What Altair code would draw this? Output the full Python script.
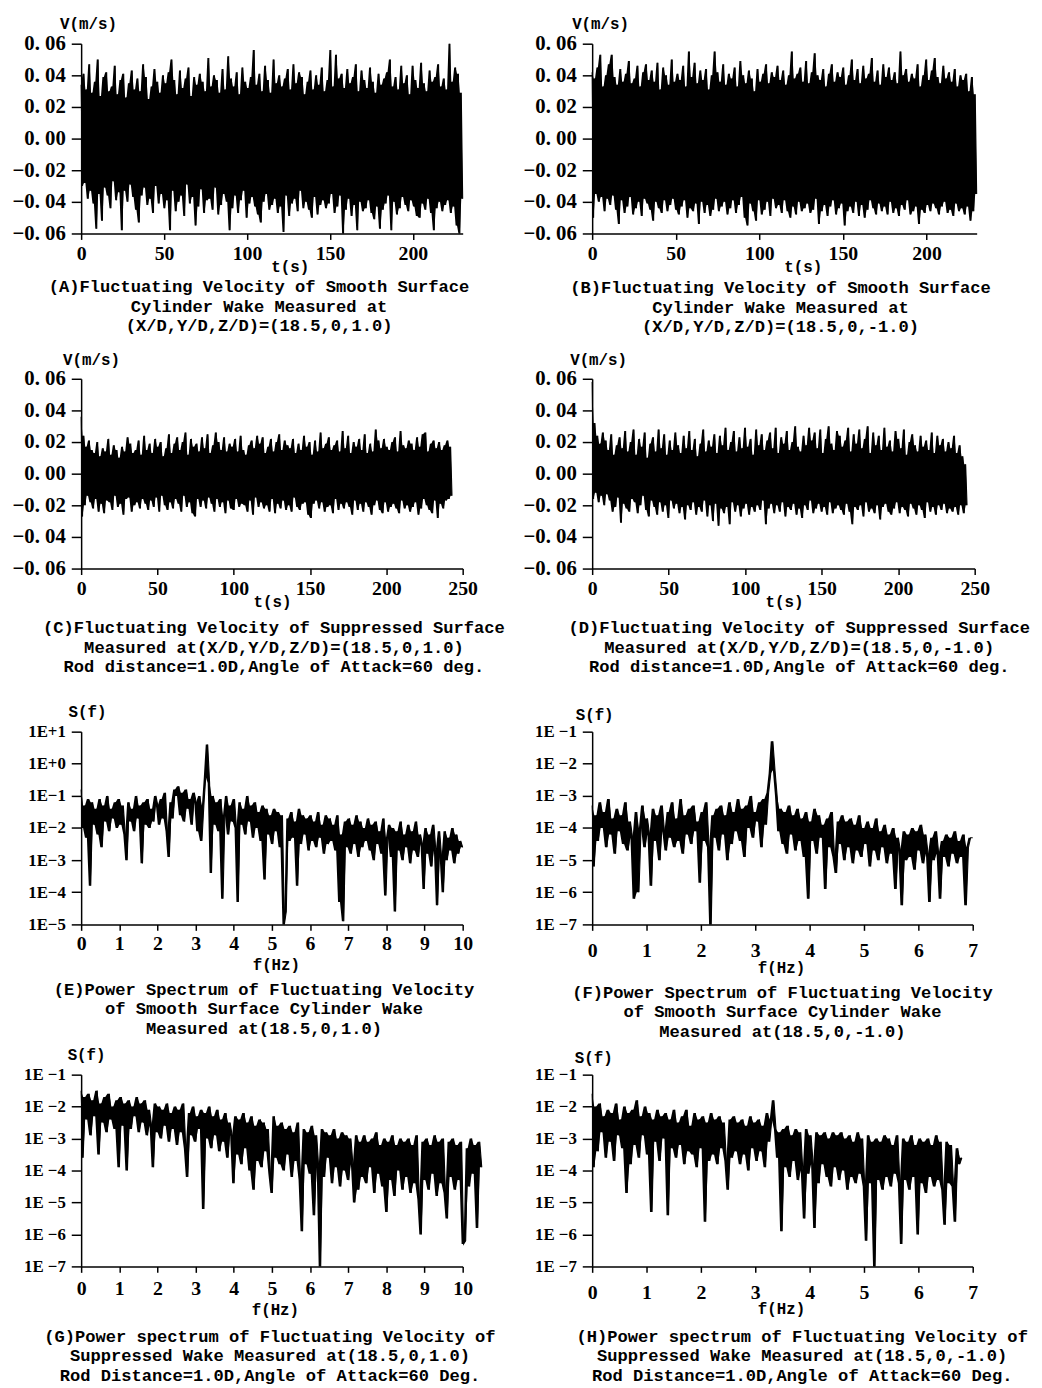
import altair as alt
import pandas as pd

MONO = "Liberation Mono"
SERIF = "Liberation Serif"

# ---------- time series: velocity in mm/s, samples evenly spread over the time span ----------
a_t_span = [0, 230]
a_v_mm = [34, -30, 41, -28, 31, -38, 47, -33, 29, -41,
          36, -57, 50, -35, 27, -52, 39, -31, 42, -36,
          30, -44, 33, -27, 46, -39, 28, -34, 37, -58,
          41, -33, 26, -40, 35, -29, 43, -37, 31, -45,
          38, -53, 30, -36, 47, -31, 39, -42, 25, -38,
          33, -47, 44, -30, 36, -41, 29, -35, 40, -44,
          35, -39, 42, -58, 50, -33, 37, -46, 28, -40,
          43, -36, 32, -49, 38, -29, 45, -41, 27, -37,
          39, -55, 34, -43, 41, -32, 36, -47, 30, -39,
          51, -38, 33, -45, 40, -31, 37, -48, 29, -42,
          44, -35, 31, -40, 52, -58, 38, -44, 33, -36,
          42, -47, 28, -39, 45, -33, 36, -50, 32, -41,
          39, -37, 56, -43, 34, -48, 41, -53, 30, -40,
          46, -35, 37, -45, 29, -42, 50, -38, 35, -47,
          40, -43, 33, -59, 38, -36, 44, -49, 31, -41,
          47, -38, 35, -46, 42, -33, 39, -44, 28, -40,
          36, -45, 43, -50, 31, -37, 40, -48, 34, -42,
          45, -39, 30, -44, 37, -41, 56, -35, 33, -47,
          53, -43, 38, -36, 41, -60, 32, -45, 44, -38,
          35, -49, 39, -42, 47, -58, 30, -40, 43, -46,
          37, -44, 32, -39, 45, -47, 36, -51, 29, -43,
          41, -57, 34, -45, 38, -41, 42, -36, 50, -58,
          33, -40, 39, -48, 31, -44, 46, -37, 35, -42,
          40, -46, 28, -39, 46, -43, 37, -49, 32, -50,
          48, -41, 35, -45, 30, -38, 43, -47, 36, -58,
          39, -44, 47, -40, 33, -46, 38, -42, 31, -39,
          60, -47, 36, -43, 45, -55, 41, -60, 29, -38]

b_t_span = [0, 230]
b_v_mm = [42, -50, 38, -35, 45, -40, 53, -37, 33, -46,
          40, -38, 47, -42, 53, -36, 39, -45, 34, -54,
          44, -39, 36, -47, 41, -43, 49, -37, 35, -48,
          38, -44, 46, -40, 33, -49, 42, -38, 47, -41,
          37, -45, 43, -52, 36, -40, 48, -44, 31, -47,
          45, -39, 40, -46, 34, -42, 50, -38, 36, -45,
          41, -48, 37, -43, 46, -39, 33, -50, 55, -44,
          39, -46, 48, -41, 35, -54, 43, -40, 37, -47,
          44, -42, 31, -49, 40, -45, 55, -38, 42, -46,
          36, -43, 47, -40, 34, -48, 41, -44, 38, -39,
          45, -47, 33, -42, 49, -37, 40, -50, 35, -55,
          43, -41, 38, -46, 30, -52, 44, -39, 36, -48,
          41, -45, 47, -40, 35, -49, 42, -38, 39, -44,
          46, -42, 37, -47, 43, -39, 34, -46, 40, -50,
          55, -43, 38, -48, 41, -40, 45, -46, 36, -44,
          49, -41, 35, -47, 42, -45, 54, -38, 40, -54,
          37, -46, 44, -42, 33, -49, 41, -43, 47, -39,
          36, -48, 42, -44, 39, -41, 45, -55, 34, -46,
          40, -43, 50, -47, 37, -40, 44, -49, 35, -42,
          46, -50, 38, -45, 41, -39, 51, -44, 36, -48,
          43, -41, 34, -46, 47, -43, 39, -48, 45, -40,
          37, -47, 42, -44, 35, -49, 55, -42, 40, -45,
          44, -39, 36, -48, 41, -46, 38, -43, 47, -54,
          33, -45, 40, -47, 50, -42, 37, -46, 43, -41,
          51, -44, 39, -48, 35, -43, 46, -40, 38, -47,
          42, -45, 36, -49, 44, -41, 33, -46, 40, -44,
          37, -48, 41, -43, 30, -52, 39, -46, 28, -35]

c_t_span = [0, 243]
c_v_mm = [36, -27, 24, -20, 17, -14, 21, -18, 15, -22,
          13, -16, 20, -24, 11, -19, 16, -25, 14, -17,
          22, -18, 12, -23, 18, -14, 15, -21, 10, -19,
          17, -26, 14, -16, 23, -15, 19, -24, 13, -20,
          15, -18, 21, -22, 12, -16, 24, -19, 15, -23,
          19, -17, 13, -21, 22, -15, 17, -24, 20, -14,
          11, -20, 16, -23, 25, -18, 13, -22, 19, -16,
          23, -19, 15, -24, 20, -14, 26, -21, 12, -18,
          22, -25, 17, -27, 19, -16, 14, -21, 23, -17,
          16, -22, 25, -15, 13, -19, 18, -24, 26, -16,
          20, -21, 15, -18, 23, -25, 14, -17, 19, -22,
          17, -23, 22, -16, 14, -21, 24, -19, 15, -20,
          12, -24, 18, -17, 21, -26, 16, -15, 24, -21,
          19, -18, 23, -22, 13, -20, 17, -24, 22, -16,
          14, -25, 20, -19, 25, -22, 15, -17, 21, -23,
          18, -20, 16, -24, 22, -15, 13, -21, 19, -23,
          15, -19, 24, -18, 17, -26, 20, -28, 12, -19,
          21, -17, 14, -22, 26, -18, 16, -24, 19, -21,
          23, -20, 15, -25, 18, -16, 21, -23, 14, -19,
          27, -22, 16, -18, 24, -21, 13, -26, 20, -17,
          17, -23, 22, -19, 15, -24, 25, -18, 13, -21,
          19, -26, 14, -20, 28, -17, 21, -23, 16, -25,
          22, -18, 17, -24, 15, -21, 20, -19, 23, -22,
          14, -25, 27, -17, 18, -22, 16, -20, 21, -24,
          19, -21, 15, -18, 23, -26, 17, -22, 25, -16,
          26, -20, 14, -23, 19, -25, 21, -17, 16, -28,
          20, -19, 15, -22, 18, -17, 21, -16, 17, -14]

d_t_span = [0, 245]
d_v_mm = [58, -16, 32, -12, 24, -18, 19, -14, 26, -20,
          21, -13, 15, -17, 25, -24, 12, -21, 18, -15,
          23, -31, 16, -19, 27, -22, 14, -24, 20, -16,
          28, -18, 12, -25, 22, -20, 17, -14, 26, -23,
          10, -27, 19, -17, 23, -21, 14, -26, 28, -18,
          16, -24, 25, -20, 12, -28, 21, -17, 15, -22,
          26, -19, 18, -25, 13, -21, 24, -29, 16, -20,
          27, -23, 15, -18, 22, -26, 11, -21, 19, -24,
          28, -17, 14, -27, 21, -20, 17, -30, 25, -19,
          13, -33, 24, -22, 18, -25, 29, -21, 15, -32,
          20, -18, 27, -24, 14, -20, 23, -27, 16, -22,
          29, -19, 17, -26, 22, -21, 12, -24, 28, -20,
          18, -23, 25, -17, 15, -32, 21, -22, 26, -19,
          16, -25, 29, -20, 13, -24, 23, -18, 19, -27,
          27, -21, 15, -23, 20, -19, 30, -26, 17, -22,
          14, -28, 24, -20, 18, -23, 29, -17, 21, -25,
          26, -22, 16, -19, 28, -24, 13, -21, 22, -26,
          30, -18, 19, -25, 15, -22, 27, -20, 24, -23,
          17, -26, 21, -19, 29, -24, 14, -32, 25, -21,
          19, -23, 28, -20, 16, -27, 22, -18, 30, -24,
          13, -22, 26, -25, 18, -20, 24, -29, 15, -21,
          29, -19, 17, -24, 21, -26, 14, -22, 27, -18,
          22, -25, 16, -21, 28, -23, 12, -27, 20, -19,
          25, -22, 18, -26, 14, -20, 24, -23, 17, -28,
          21, -18, 15, -24, 26, -21, 13, -26, 24, -20,
          18, -23, 22, -19, 14, -25, 20, -22, 16, -24,
          24, -21, 13, -26, 18, -20, 11, -25, 6, -20]

# ---------- power spectra: S(f) in dB (10*log10 S), samples evenly spread over the band ----------
e_f_span = [0, 10]
e_s_db = [-8, -20, -13, -23, -11, -38, -12, -19, -14, -22,
          -11, -26, -13, -18, -10, -21, -14, -17, -12, -20,
          -11, -19, -13, -22, -30, -12, -18, -14, -21, -10,
          -17, -13, -31, -12, -19, -11, -20, -14, -18, -10,
          -13, -19, -11, -17, -9, -21, -29, -12, -17, -8,
          -10, -7, -16, -9, -18, -8, -14, -11, -19, -9,
          -12, -21, -10, -24, -13, -4, 6, -6, -34, -10,
          -19, -12, -21, -11, -42, -16, -10, -22, -13, -18,
          -11, -20, -43, -12, -19, -14, -22, -10, -18, -13,
          -23, -12, -20, -15, -24, -13, -36, -14, -22, -16,
          -25, -14, -21, -15, -26, -16, -50, -46, -17, -24,
          -15, -23, -18, -38, -14, -25, -16, -22, -17, -27,
          -16, -24, -18, -26, -15, -23, -19, -28, -16, -25,
          -17, -24, -19, -27, -16, -43, -22, -49, -18, -26,
          -17, -28, -19, -25, -16, -29, -18, -26, -20, -24,
          -17, -27, -19, -30, -18, -25, -21, -28, -17, -41,
          -23, -19, -29, -20, -46, -21, -27, -18, -30, -22,
          -26, -19, -31, -21, -27, -18, -29, -22, -25, -39,
          -20, -28, -22, -32, -19, -27, -44, -21, -29, -40,
          -21, -30, -23, -27, -20, -31, -22, -28, -24, -26]

f_f_span = [0, 7]
f_s_db = [-33, -52, -36, -44, -32, -40, -35, -46, -31, -42,
          -37, -48, -34, -41, -36, -45, -32, -47, -38, -43,
          -62, -35, -60, -40, -33, -46, -37, -42, -58, -34,
          -44, -36, -50, -33, -41, -47, -35, -43, -32, -46,
          -37, -44, -31, -48, -36, -42, -34, -45, -33, -41,
          -38, -57, -35, -44, -32, -46, -70, -36, -43, -34,
          -47, -33, -42, -36, -50, -32, -45, -35, -41, -31,
          -44, -34, -49, -33, -40, -30, -43, -35, -38, -32,
          -46, -31, -39, -29, -23, -13, -22, -30, -41, -34,
          -45, -35, -48, -33, -42, -36, -47, -34, -44, -37,
          -49, -35, -62, -38, -44, -34, -48, -36, -43, -39,
          -59, -37, -46, -35, -49, -54, -38, -45, -36, -50,
          -38, -46, -37, -51, -39, -47, -36, -49, -40, -45,
          -38, -52, -40, -47, -37, -50, -41, -46, -39, -51,
          -42, -48, -40, -59, -43, -47, -64, -41, -50, -42,
          -49, -40, -53, -41, -47, -39, -51, -42, -48, -63,
          -43, -50, -41, -48, -62, -44, -49, -42, -52, -43,
          -48, -41, -51, -44, -49, -42, -64, -46, -43, -43]

g_f_span = [0, 10.5]
g_s_db = [-15, -36, -17, -24, -16, -29, -18, -23, -15, -35,
          -19, -25, -17, -28, -16, -24, -20, -27, -18, -39,
          -17, -26, -19, -40, -18, -27, -20, -23, -17, -28,
          -19, -25, -18, -29, -21, -26, -39, -19, -28, -20,
          -30, -21, -26, -19, -31, -22, -27, -20, -32, -21,
          -28, -19, -33, -42, -22, -29, -20, -31, -23, -27,
          -21, -52, -22, -30, -20, -33, -23, -29, -21, -34,
          -24, -31, -22, -36, -25, -29, -44, -23, -35, -24,
          -38, -22, -33, -25, -40, -23, -46, -26, -37, -24,
          -39, -25, -34, -27, -41, -47, -23, -36, -26, -38,
          -25, -40, -27, -35, -26, -42, -28, -37, -25, -43,
          -59, -27, -38, -28, -41, -26, -54, -29, -39, -70,
          -27, -42, -28, -36, -29, -44, -27, -39, -30, -45,
          -28, -40, -29, -43, -30, -38, -50, -29, -46, -31,
          -42, -29, -44, -31, -39, -30, -47, -28, -41, -32,
          -45, -30, -53, -31, -43, -29, -48, -32, -40, -30,
          -46, -31, -42, -30, -47, -32, -44, -29, -49, -60,
          -31, -43, -30, -46, -32, -41, -29, -48, -31, -44,
          -30, -47, -55, -31, -42, -30, -46, -32, -43, -31,
          -63, -62, -33, -45, -30, -41, -32, -58, -31, -39]

h_f_span = [0, 6.8]
h_s_db = [-16, -39, -20, -34, -19, -28, -23, -36, -21, -31,
          -22, -37, -19, -29, -24, -33, -20, -47, -22, -38,
          -21, -32, -18, -36, -23, -29, -20, -35, -22, -53,
          -24, -31, -21, -37, -23, -30, -22, -54, -24, -33,
          -21, -36, -25, -32, -23, -38, -21, -34, -26, -35,
          -22, -39, -24, -33, -23, -56, -25, -37, -22, -35,
          -24, -38, -23, -33, -25, -37, -46, -24, -36, -23,
          -34, -25, -38, -24, -35, -26, -40, -23, -33, -25,
          -37, -24, -34, -26, -39, -22, -31, -24, -18, -27,
          -36, -28, -59, -27, -39, -26, -42, -29, -37, -27,
          -43, -28, -40, -55, -27, -41, -29, -38, -58, -28,
          -44, -29, -38, -28, -42, -30, -45, -28, -39, -29,
          -43, -28, -40, -30, -46, -29, -42, -31, -44, -28,
          -41, -30, -45, -62, -29, -44, -31, -70, -30, -43,
          -31, -46, -29, -42, -30, -45, -32, -41, -29, -44,
          -63, -30, -43, -31, -46, -29, -42, -32, -60, -30,
          -44, -31, -47, -30, -42, -32, -45, -29, -43, -31,
          -46, -57, -31, -44, -32, -45, -56, -33, -38, -36]

# ---------- ticks & captions ----------
v_ticks = [-0.06, -0.04, -0.02, 0.0, 0.02, 0.04, 0.06]
t_ticks_230 = [0, 50, 100, 150, 200]
t_ticks_250 = [0, 50, 100, 150, 200, 250]
f_ticks_10 = [0, 1, 2, 3, 4, 5, 6, 7, 8, 9, 10]
f_ticks_7 = [0, 1, 2, 3, 4, 5, 6, 7]
s_ticks_e = [1e-5, 1e-4, 1e-3, 1e-2, 1e-1, 1e0, 1e1]
s_ticks_fgh = [1e-7, 1e-6, 1e-5, 1e-4, 1e-3, 1e-2, 1e-1]

cap_a = ["(A)Fluctuating Velocity of Smooth Surface", "Cylinder Wake Measured at",
         "(X/D,Y/D,Z/D)=(18.5,0,1.0)"]
cap_b = ["(B)Fluctuating Velocity of Smooth Surface", "Cylinder Wake Measured at",
         "(X/D,Y/D,Z/D)=(18.5,0,-1.0)"]
cap_c = ["(C)Fluctuating Velocity of Suppressed Surface", "Measured at(X/D,Y/D,Z/D)=(18.5,0,1.0)",
         "Rod distance=1.0D,Angle of Attack=60 deg."]
cap_d = ["(D)Fluctuating Velocity of Suppressed Surface", "Measured at(X/D,Y/D,Z/D)=(18.5,0,-1.0)",
         "Rod distance=1.0D,Angle of Attack=60 deg."]
cap_e = ["(E)Power Spectrum of Fluctuating Velocity", "of Smooth Surface Cylinder Wake",
         "Measured at(18.5,0,1.0)"]
cap_f = ["(F)Power Spectrum of Fluctuating Velocity", "of Smooth Surface Cylinder Wake",
         "Measured at(18.5,0,-1.0)"]
cap_g = ["(G)Power spectrum of Fluctuating Velocity of", "Suppressed Wake Measured at(18.5,0,1.0)",
         "Rod Distance=1.0D,Angle of Attack=60 Deg."]
cap_h = ["(H)Power spectrum of Fluctuating Velocity of", "Suppressed Wake Measured at(18.5,0,-1.0)",
         "Rod Distance=1.0D,Angle of Attack=60 Deg."]


def make_df(span, vals, conv):
    n = len(vals)
    return pd.DataFrame({
        "x": [span[0] + (span[1] - span[0]) * k / (n - 1) for k in range(n)],
        "y": [conv(v) for v in vals],
    })


def caption_title(lines, dx, offset):
    return alt.TitleParams(text=lines, orient="bottom", anchor="middle", dx=dx, offset=offset)


def signal(df, x_axis, x_scale, y_axis, y_scale, width, height, title):
    """Dense trace: filled band between consecutive samples plus the trace itself."""
    base = alt.Chart(df)
    xenc = alt.X("x:Q", scale=x_scale, axis=x_axis)
    band = base.transform_window(
        hi="max(y)", lo="min(y)", frame=[0, 1], sort=[alt.SortField("x")]
    ).mark_area(color="black").encode(
        x=xenc,
        y=alt.Y("hi:Q", scale=y_scale, axis=y_axis),
        y2="lo:Q",
    )
    line = base.mark_line(color="black", strokeWidth=1.1).encode(
        x=xenc,
        y=alt.Y("y:Q", scale=y_scale, axis=y_axis),
    )
    return alt.layer(band, line).properties(width=width, height=height, title=title)


def time_panel(span, vals, xdom, xticks, caption, ytx, yty, xtx, cap_dx, cap_off, width=386):
    df = make_df(span, vals, lambda v: v / 1000.0)
    x_axis = alt.Axis(values=xticks, format="d", title="t(s)", titleX=xtx, titleY=33,
                      titleAlign="center", titleBaseline="middle")
    y_axis = alt.Axis(values=v_ticks,
                      labelExpr="replace(format(datum.value, '.2f'), '.', '. ')",
                      labelFontSize=21,
                      title="V(m/s)", titleAngle=0, titleX=ytx, titleY=yty,
                      titleAlign="center", titleBaseline="bottom")
    return signal(df, x_axis, alt.Scale(domain=xdom, nice=False, zero=False),
                  y_axis, alt.Scale(domain=[-0.06, 0.06], nice=False),
                  width, 192, caption_title(caption, cap_dx, cap_off))


def spec_panel(span, vals, xdom, xticks, ydom, yticks, label_expr, caption, ytx, yty, xtx, xty,
               cap_dx, cap_off, xlabpad, height, width=386):
    df = make_df(span, vals, lambda v: 10.0 ** (v / 10.0))
    x_axis = alt.Axis(values=xticks, format="d", title="f(Hz)", titleX=xtx, titleY=xty,
                      titleAlign="center", titleBaseline="middle", labelPadding=xlabpad)
    y_axis = alt.Axis(values=yticks, labelExpr=label_expr, labelFontSize=17,
                      title="S(f)", titleAngle=0, titleX=ytx, titleY=yty,
                      titleAlign="center", titleBaseline="bottom")
    return signal(df, x_axis, alt.Scale(domain=xdom, nice=False, zero=False),
                  y_axis, alt.Scale(type="log", domain=ydom, nice=False),
                  width, height, caption_title(caption, cap_dx, cap_off))


expr_e = "'1E' + (datum.value >= 1 ? '+' : '\u2212') + abs(round(log(datum.value) / LN10))"
expr_fgh = "'1E \u2212' + abs(round(log(datum.value) / LN10))"

pa = time_panel(a_t_span, a_v_mm, [0, 230], t_ticks_230, cap_a, 7, -12, 211, -13, 4)
pb = time_panel(b_t_span, b_v_mm, [0, 230], t_ticks_230, cap_b, 8, -12, 213, -4, 5, width=389)
pc = time_panel(c_t_span, c_v_mm, [0, 250], t_ticks_250, cap_c, 10, -11, 193, 2, 10)
pd_ = time_panel(d_t_span, d_v_mm, [0, 250], t_ticks_250, cap_d, 6, -11, 194, 16, 10, width=387)

pe = spec_panel(e_f_span, e_s_db, [0, 10], f_ticks_10, [1e-5, 10], s_ticks_e, expr_e, cap_e,
                6, -12, 197, 41, -8, 8, 3, 195)
pf = spec_panel(f_f_span, f_s_db, [0, 7], f_ticks_7, [1e-7, 0.1], s_ticks_fgh, expr_fgh, cap_f,
                2, -9, 191, 44, 0, 8, 10, 195, width=385)
pg = spec_panel(g_f_span, g_s_db, [0, 10], f_ticks_10, [1e-7, 0.1], s_ticks_fgh, expr_fgh, cap_g,
                5, -12, 196, 44, -2, 10, 6, 194)
ph = spec_panel(h_f_span, h_s_db, [0, 7], f_ticks_7, [1e-7, 0.1], s_ticks_fgh, expr_fgh, cap_h,
                1, -9, 191, 43, 20, 11, 10, 194, width=385)

row1 = alt.hconcat(pa, pb, spacing=131, bounds="flush")
row2 = alt.hconcat(pc, pd_, spacing=131, bounds="flush")
row3 = alt.hconcat(pe, pf, spacing=131, bounds="flush")
row4 = alt.hconcat(pg, ph, spacing=131, bounds="flush")

upper = alt.vconcat(row1, row2, spacing=16)
lower = alt.vconcat(row3, row4, spacing=6)

chart = alt.vconcat(upper, lower, spacing=28,
                    padding={"left": 4, "top": 0, "right": 4, "bottom": 4})

chart = chart.configure_view(strokeWidth=0).configure_axis(
    grid=False, domainColor="black", domainWidth=1.5, tickColor="black", tickWidth=1.5,
    labelColor="black", labelFont=SERIF, labelFontWeight="bold", labelFontSize=20,
    labelFlush=False, labelOverlap=False,
    titleColor="black", titleFont=MONO, titleFontSize=16, titleFontWeight="bold",
).configure_axisX(tickSize=6, labelPadding=4).configure_axisY(tickSize=10, labelPadding=6).configure_title(
    font=MONO, fontSize=17.3, fontWeight="bold", color="black", lineHeight=20
)

chart.save("out.html", embed_options={"renderer": "svg", "actions": False})
